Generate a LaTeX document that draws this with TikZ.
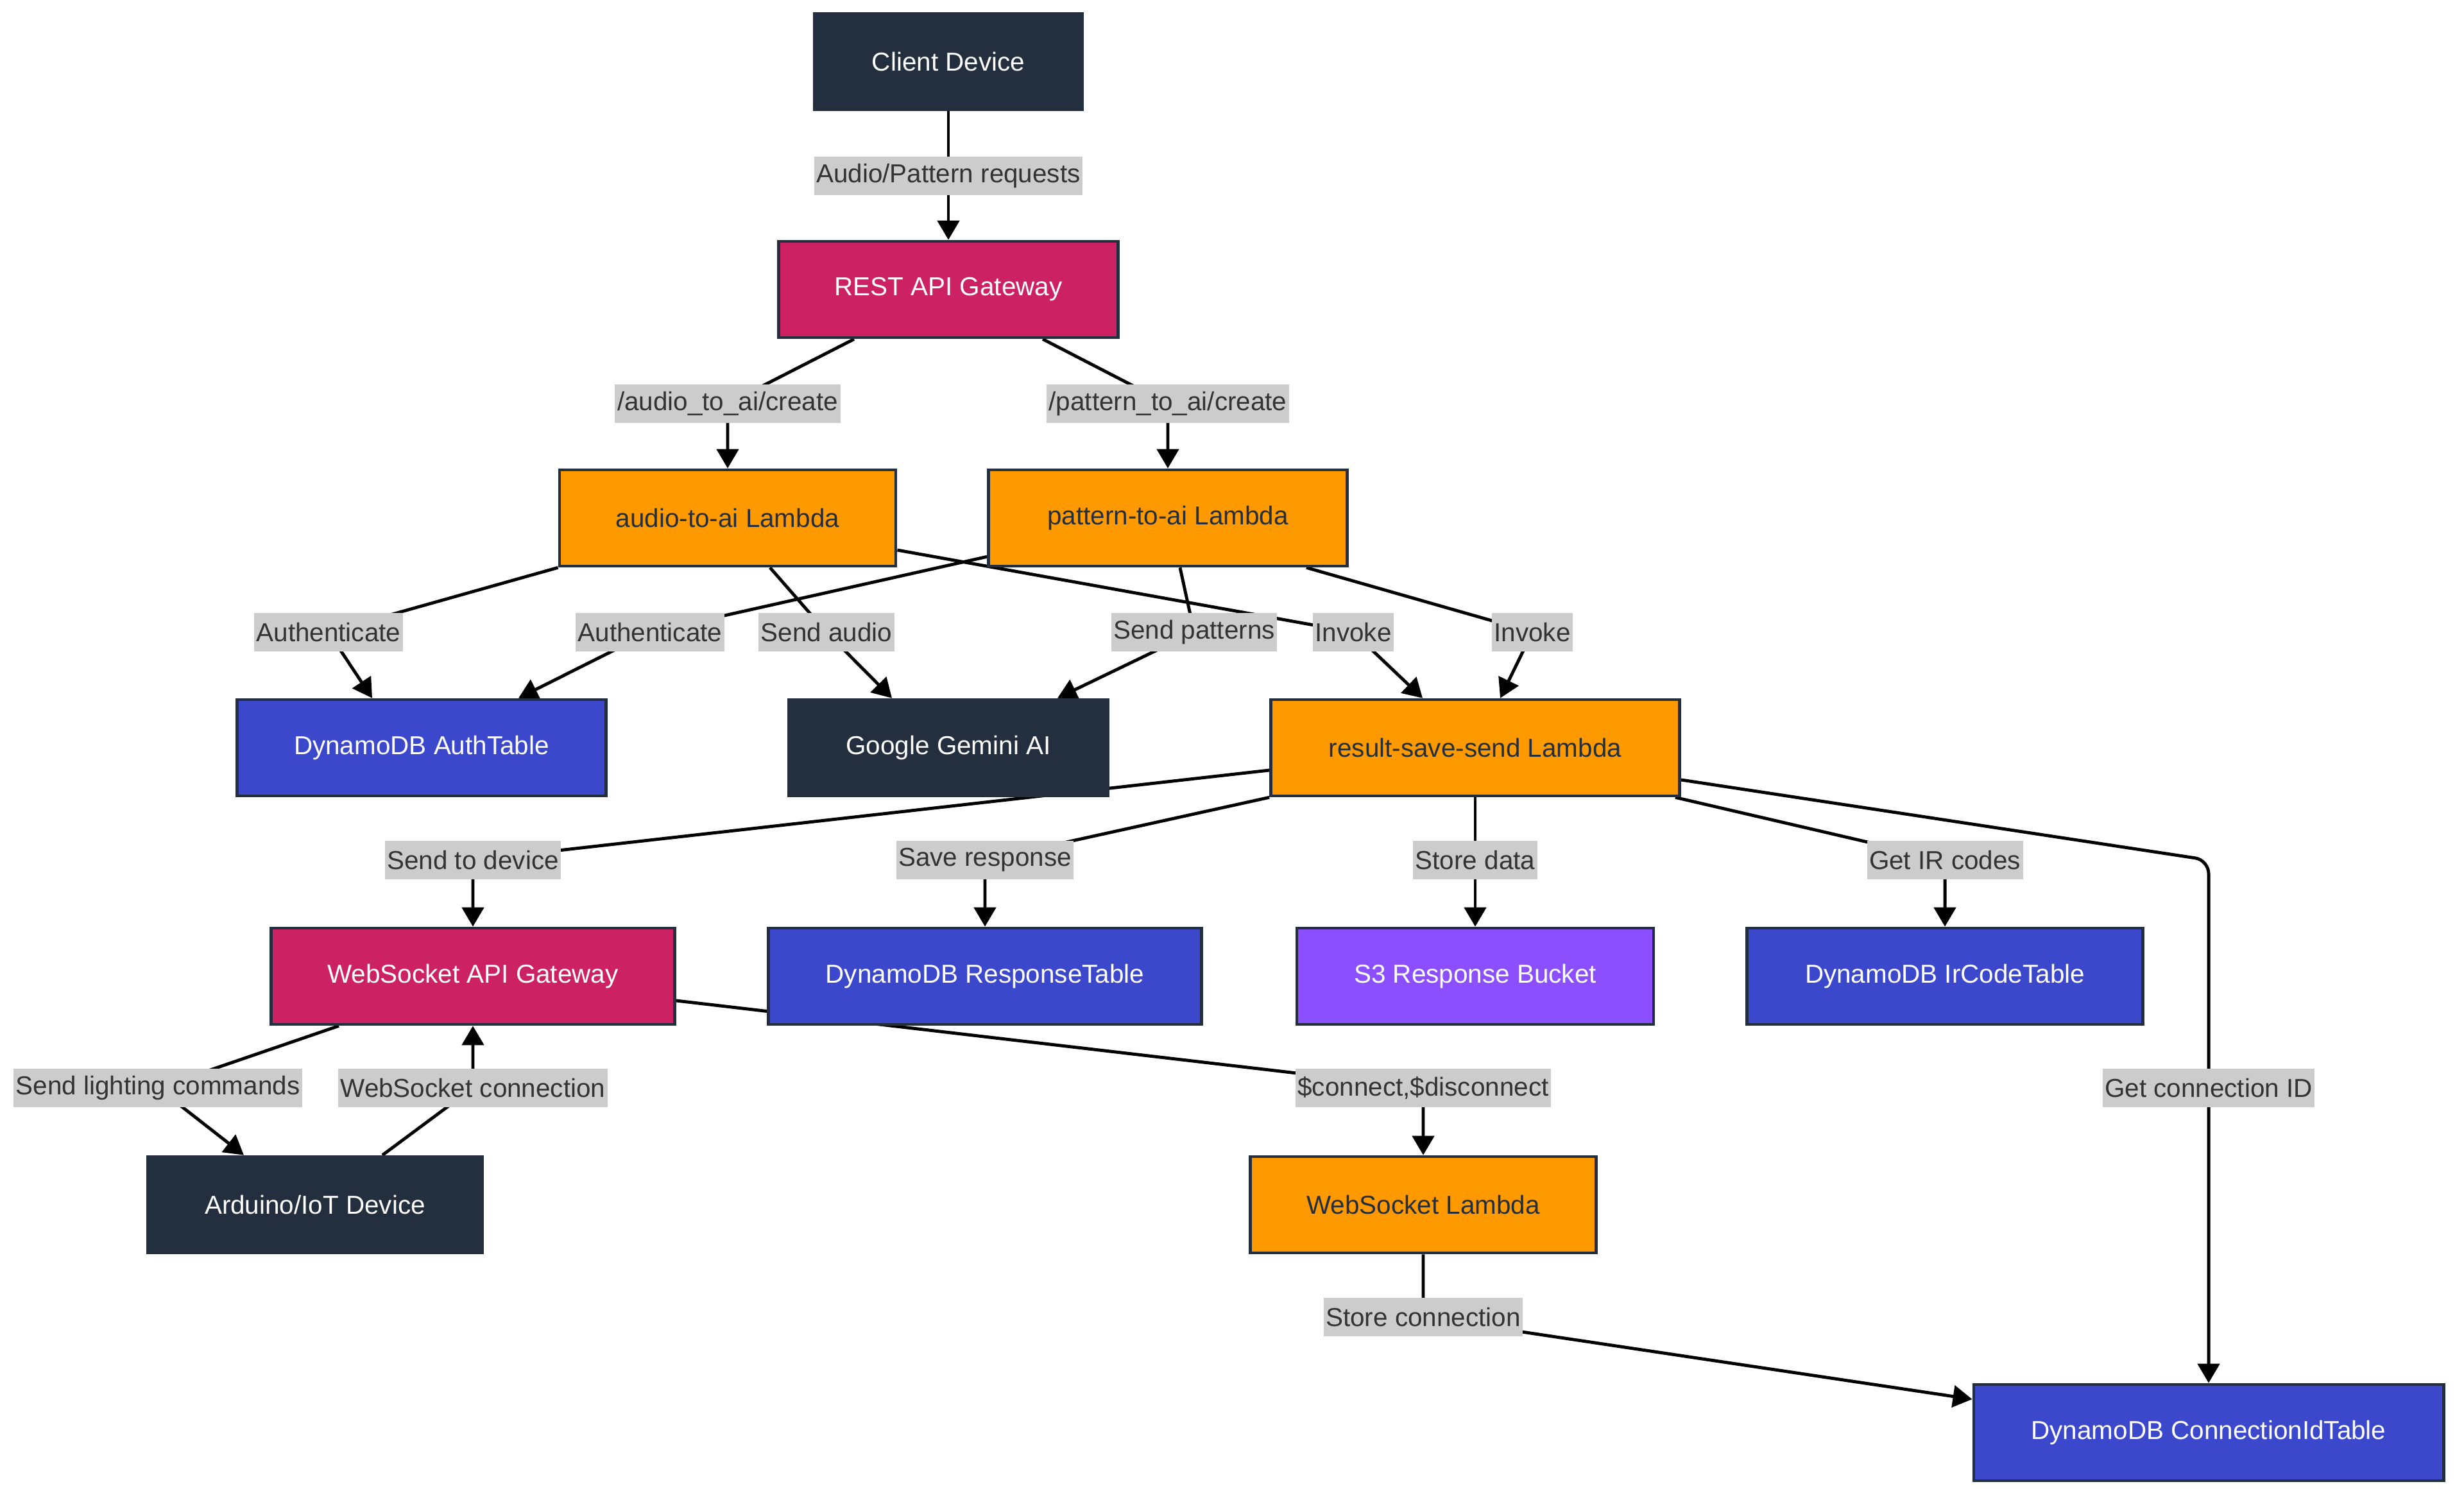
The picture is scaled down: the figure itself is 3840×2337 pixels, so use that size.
\documentclass[tikz,border=0pt]{standalone}
\usepackage{fontspec}
\setmainfont{Liberation Sans}
\usetikzlibrary{arrows.meta,calc}
\definecolor{navy}{HTML}{232F3E}
\definecolor{gwpink}{HTML}{CC2264}
\definecolor{lamorange}{HTML}{FF9900}
\definecolor{ddbblue}{HTML}{3B48CC}
\definecolor{s3purple}{HTML}{8C4FFF}
\definecolor{lblgray}{HTML}{CCCCCC}
\definecolor{lbltext}{HTML}{333333}
\pgfdeclarelayer{bg}
\pgfsetlayers{bg,main}
\tikzset{
  box/.style={draw=navy, line width=1.3pt, minimum height=1.5cm, inner sep=0pt, align=center},
  darkbox/.style={box, fill=navy, text=white},
  gwbox/.style={box, fill=gwpink, text=white},
  lambox/.style={box, fill=lamorange, text=navy},
  ddbbox/.style={box, fill=ddbblue, text=white},
  sthreebox/.style={box, fill=s3purple, text=white},
  elabel/.style={fill=lblgray, text=lbltext, inner xsep=1pt, inner ysep=0pt, minimum height=0.6cm},
  conn/.style={draw=black, line width=1.4pt, -{Triangle[length=0.3cm,width=0.34cm]}, rounded corners=6pt}
}
\begin{document}
\begin{tikzpicture}[x=0.01cm, y=-0.01cm, font=\fontsize{11.5}{13}\selectfont]
\useasboundingbox (0,0) rectangle (3840,2337);

% nodes
\node[darkbox, minimum width=4.18cm] (client) at (1478,96) {Client Device};
\node[gwbox, minimum width=5.29cm] (rest) at (1478,451) {REST API Gateway};
\node[lambox, minimum width=5.24cm] (audio) at (1134,807) {audio-to-ai Lambda};
\node[lambox, minimum width=5.59cm] (pattern) at (1820,807) {pattern-to-ai Lambda};
\node[ddbbox, minimum width=5.75cm] (auth) at (657,1165) {DynamoDB AuthTable};
\node[darkbox, minimum width=4.98cm] (gemini) at (1478,1165) {Google Gemini AI};
\node[lambox, minimum width=6.37cm] (result) at (2299,1165) {result-save-send Lambda};
\node[gwbox, minimum width=6.29cm] (wsgw) at (737,1521) {WebSocket API Gateway};
\node[ddbbox, minimum width=6.75cm] (resp) at (1535,1521) {DynamoDB ResponseTable};
\node[sthreebox, minimum width=5.56cm] (sthree) at (2299,1521) {S3 Response Bucket};
\node[ddbbox, minimum width=6.17cm] (ircode) at (3031,1521) {DynamoDB IrCodeTable};
\node[darkbox, minimum width=5.22cm] (arduino) at (491,1877) {Arduino/IoT Device};
\node[lambox, minimum width=5.39cm] (wslambda) at (2218,1877) {WebSocket Lambda};
\node[ddbbox, minimum width=7.32cm] (connid) at (3442,2232) {DynamoDB ConnectionIdTable};

% edge labels
\node[elabel] (l1) at (1478,274) {Audio/Pattern requests};
\node[elabel] (l2) at (1134,629) {/audio\_to\_ai/create};
\node[elabel] (l3) at (1820,629) {/pattern\_to\_ai/create};
\node[elabel] (l4) at (512,985) {Authenticate};
\node[elabel] (l5) at (1013,985) {Authenticate};
\node[elabel] (l6) at (1288,985) {Send audio};
\node[elabel] (l7) at (1861,985) {Send patterns};
\node[elabel] (l8) at (2109,985) {Invoke};
\node[elabel] (l9) at (2388,985) {Invoke};
\node[elabel] (l10) at (737,1340) {Send to device};
\node[elabel] (l11) at (1535,1340) {Save response};
\node[elabel] (l12) at (2299,1340) {Store data};
\node[elabel] (l13) at (3031,1340) {Get IR codes};
\node[elabel] (l14) at (3442,1695) {Get connection ID};
\node[elabel] (l15) at (246,1695) {Send lighting commands};
\node[elabel] (l16) at (737,1695) {WebSocket connection};
\node[elabel] (l17) at (2218,1695) {\$connect,\$disconnect};
\node[elabel] (l18) at (2218,2052) {Store connection};

% connectors
\begin{pgfonlayer}{bg}
\draw[conn] (client.south) -- (l1.center) -- (rest.north);
\draw[conn] ($(rest.south)+(-147,0)$) -- (l2.center) -- (audio.north);
\draw[conn] ($(rest.south)+(147,0)$) -- (l3.center) -- (pattern.north);
\draw[conn] (audio.south west) -- (l4.center) -- ($(auth.north)+(-77,0)$);
\draw[conn] ($(pattern.south west)+(0,-17)$) -- (l5.center) -- ($(auth.north)+(151,0)$);
\draw[conn] ($(audio.south)+(66,0)$) -- (l6.center) -- ($(gemini.north)+(-88,0)$);
\draw[conn] ($(pattern.south)+(19,0)$) -- (l7.center) -- ($(gemini.north)+(170,0)$);
\draw[conn] ($(audio.east)+(0,50)$) -- (l8.center) -- ($(result.north)+(-82,0)$);
\draw[conn] ($(pattern.south east)+(-66,0)$) -- (l9.center) -- ($(result.north)+(39,0)$);
\draw[conn] ($(result.west)+(0,35)$) -- (l10.center) -- (wsgw.north);
\draw[conn] (result.south west) -- (l11.center) -- (resp.north);
\draw[conn] (result.south) -- (l12.center) -- (sthree.north);
\draw[conn] ($(result.south east)+(-9,0)$) -- (l13.center) -- (ircode.north);
\draw[conn] ($(result.east)+(0,50)$) -- (connid.north |- l13.center) -- (l14.center) -- (connid.north);
\draw[conn] ($(wsgw.south)+(-209,0)$) -- (l15.center) -- ($(arduino.north)+(-111,0)$);
\draw[conn] ($(arduino.north)+(105,0)$) -- (l16.center) -- (wsgw.south);
\draw[conn] ($(wsgw.east)+(0,38)$) -- (l17.center) -- (wslambda.north);
\draw[conn] (wslambda.south) -- (l18.center) -- ($(connid.west)+(0,-52)$);
\end{pgfonlayer}
\end{tikzpicture}
\end{document}
